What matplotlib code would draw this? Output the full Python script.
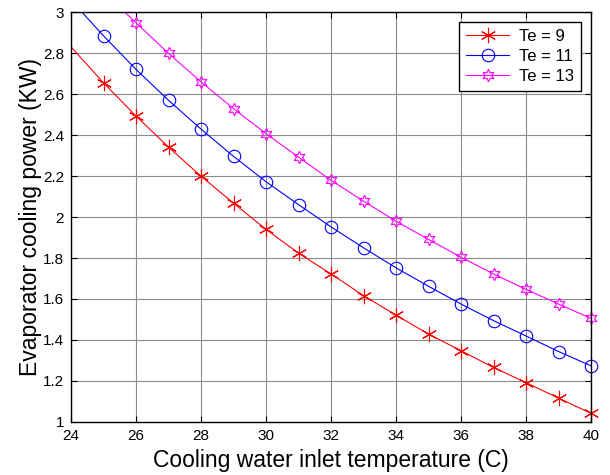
import matplotlib
matplotlib.use("Agg")
import matplotlib.pyplot as plt

plt.rcParams['font.family'] = ['Liberation Sans', 'DejaVu Sans']

temps = [24, 25, 26, 27, 28, 29, 30, 31, 32, 33, 34, 35, 36, 37, 38, 39, 40]
te9 = [2.832, 2.656, 2.494, 2.342, 2.200, 2.068, 1.940, 1.824, 1.722, 1.616,
       1.521, 1.428, 1.347, 1.265, 1.191, 1.115, 1.041]
te11 = [3.06, 2.886, 2.722, 2.571, 2.430, 2.297, 2.173, 2.061, 1.952, 1.850,
        1.752, 1.662, 1.575, 1.494, 1.419, 1.343, 1.273]
te13 = [3.26, 3.10, 2.95, 2.80, 2.661, 2.530, 2.408, 2.293, 2.180, 2.078,
        1.980, 1.891, 1.804, 1.722, 1.647, 1.575, 1.505]
labels = ['Te = 9', 'Te = 11', 'Te = 13']
xticks = [24, 26, 28, 30, 32, 34, 36, 38, 40]
yticks = [1, 1.2, 1.4, 1.6, 1.8, 2, 2.2, 2.4, 2.6, 2.8, 3]
ytick_labels = ['1', '1.2', '1.4', '1.6', '1.8', '2', '2.2', '2.4', '2.6', '2.8', '3']

fig = plt.figure(figsize=(6.1, 4.75), dpi=100)
ax = fig.add_axes([0.1164, 0.1122, 0.8525, 0.8615])

series = [te9, te11, te13]
colors = ['#ff0000', '#0000ff', '#ff00ff']
markers = [(6, 2, 0), 'o', (6, 1, 0)]
msizes = [11, 9, 9]

handles = []
for ys, c, m, ms, lab in zip(series, colors, markers, msizes, labels):
    ax.plot(temps, ys, color=c, lw=0.8)
    ax.plot(temps[1:], ys[1:], linestyle='none', marker=m, markersize=ms,
            markerfacecolor='none', markeredgecolor=c, markeredgewidth=0.8,
            clip_on=False)
    h, = ax.plot([], [], color=c, lw=0.8, marker=m, markersize=ms,
                 markerfacecolor='none', markeredgecolor=c, markeredgewidth=0.8,
                 label=lab)
    handles.append(h)

ax.set_xlim(24, 40)
ax.set_ylim(1, 3)
ax.set_xticks(xticks)
ax.set_yticks(yticks)
ax.set_yticklabels(ytick_labels)
ax.grid(True, color='#8c8c8c', lw=0.8)
ax.set_axisbelow(True)
ax.tick_params(direction='in', top=True, right=True, labelsize=11, length=4,
               width=0.8)
ax.tick_params(axis='y', pad=5)
ax.tick_params(axis='x', pad=5)
for s in ax.spines.values():
    s.set_linewidth(1.0)
    s.set_color('black')

ax.set_xlabel('Cooling water inlet temperature (C)', fontsize=16.5, labelpad=4.5)
ax.set_ylabel('Evaporator cooling power (KW)', fontsize=16.5, labelpad=1)

leg = ax.legend(handles=handles, loc='upper right', fontsize=12, fancybox=False,
                framealpha=1, edgecolor='black', handlelength=2.6,
                borderaxespad=0.6, labelspacing=0.3, borderpad=0.4,
                handletextpad=0.6)
leg.get_frame().set_linewidth(1.0)

fig.savefig('out.png', dpi=100)
